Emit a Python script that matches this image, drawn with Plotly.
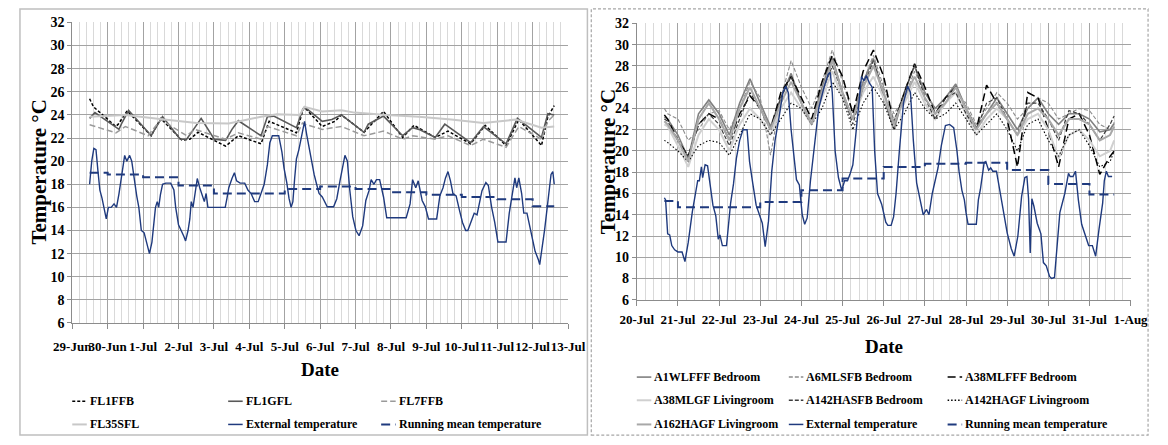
import plotly.graph_objects as go

W, H = 1168, 445
FONT = "Liberation Serif"

# ---------------- LEFT PANEL DATA (x = days after 29-Jun 00:00) ----------------
days_left = ["29-Jun", "30-Jun", "1-Jul", "2-Jul", "3-Jul", "4-Jul", "5-Jul", "6-Jul",
             "7-Jul", "8-Jul", "9-Jul", "10-Jul", "11-Jul", "12-Jul", "13-Jul"]

ext_L_t = [0.49, 0.55, 0.61, 0.67, 0.73, 0.78, 0.84, 0.9, 0.96, 1.02, 1.1, 1.18, 1.25, 1.32, 1.4,
           1.48, 1.54, 1.62, 1.68, 1.75, 1.82, 1.88, 1.95, 2.03, 2.1, 2.18, 2.25, 2.3, 2.35, 2.4,
           2.44, 2.49, 2.55, 2.64, 2.78, 2.87, 2.92, 3.0, 3.08, 3.15, 3.2, 3.27, 3.32, 3.36, 3.41,
           3.46, 3.53, 3.6, 3.67, 3.73, 3.78, 3.83, 4.0, 4.2, 4.32, 4.37, 4.42, 4.51, 4.58, 4.64,
           4.74, 4.87, 4.96, 5.05, 5.15, 5.25, 5.33, 5.42, 5.51, 5.58, 5.65, 5.83, 5.92, 5.98, 6.06,
           6.12, 6.18, 6.23, 6.28, 6.33, 6.4, 6.47, 6.56, 6.62, 6.69, 6.76, 6.83, 6.9, 6.97, 7.06,
           7.2, 7.38, 7.47, 7.56, 7.7, 7.77, 7.83, 7.92, 8.01, 8.1, 8.2, 8.29, 8.38, 8.44, 8.52,
           8.59, 8.68, 8.79, 8.88, 9.43, 9.54, 9.61, 9.7, 9.77, 9.88, 9.97, 10.06, 10.29, 10.38, 10.47,
           10.54, 10.61, 10.68, 10.75, 10.84, 10.93, 11.02, 11.11, 11.17, 11.29, 11.35, 11.43, 11.57, 11.68, 11.75,
           11.84, 11.93, 12.02, 12.25, 12.34, 12.43, 12.5, 12.55, 12.61, 12.69, 12.75, 12.84, 12.94, 13.07, 13.16,
           13.2, 13.34, 13.43, 13.52, 13.57, 13.61]
ext_L_v = [18.0, 20.0, 21.1, 21.0, 19.0, 17.5, 16.8, 16.0, 15.0, 16.0, 16.0, 16.3, 16.0, 17.2, 19.0,
           20.5, 20.0, 20.5, 20.0, 18.3, 17.0, 16.0, 14.0, 13.8, 13.0, 12.0, 13.0, 14.5, 16.0, 16.5,
           16.0, 17.1, 18.0, 18.1, 18.1, 17.5, 16.0, 14.5, 14.0, 13.5, 13.1, 14.0, 15.0, 16.5, 16.0,
           17.2, 18.5, 17.7, 17.0, 16.5, 17.2, 16.0, 16.0, 16.0, 16.0, 16.8, 17.7, 18.5, 19.0, 18.3,
           18.1, 18.1, 17.5, 17.2, 16.5, 16.5, 17.2, 18.0, 19.7, 21.6, 22.2, 22.2, 20.8, 19.4, 18.1,
           16.8, 16.0, 16.5, 18.5, 20.2, 21.0, 22.2, 23.45, 22.3, 21.1, 20.0, 18.85, 18.0, 17.2, 16.9,
           16.05, 16.05, 16.75, 18.3, 20.5, 20.0, 17.7, 15.2, 14.0, 13.55, 14.4, 16.6, 17.45, 18.4, 18.0,
           18.4, 18.4, 16.9, 15.1, 15.1, 16.3, 18.4, 17.7, 18.3, 16.6, 16.05, 15.0, 15.0, 17.0, 17.7,
           18.55, 19.1, 18.3, 17.2, 17.0, 15.8, 14.7, 14.0, 14.0, 15.0, 15.5, 15.35, 17.45, 18.15, 17.9,
           16.05, 14.7, 13.0, 13.0, 15.5, 17.45, 18.55, 17.7, 18.55, 17.2, 15.5, 15.5, 14.0, 12.2, 11.5,
           11.05, 14.1, 16.6, 18.85, 19.1, 18.0]

rm_L_t = [0.49, 1, 2, 3, 4, 5, 6, 7, 8, 9, 10, 11, 12, 13, 13.61]
rm_L_v = [19.0, 18.85, 18.6, 17.9, 17.2, 17.2, 17.6, 17.8, 17.6, 17.3, 17.1, 16.9, 16.7, 16.1, 16.1]

fl1gfl_t = [0.49, 0.64, 1.32, 1.40, 1.59, 2.23, 2.30, 2.55, 3.05, 3.23, 3.46, 3.64, 4.01, 4.33,
            4.51, 4.69, 5.33, 5.42, 5.51, 5.69, 6.33, 6.51, 6.56, 7.06, 7.33, 7.6, 8.24, 8.36,
            8.79, 9.33, 9.61, 9.79, 10.25, 10.52, 11.25, 11.61, 12.25, 12.57, 13.25, 13.43, 13.61]
fl1gfl_v = [23.7, 24.2, 22.75, 23.3, 24.4, 22.2, 22.6, 23.85, 21.9, 21.9, 22.9, 23.7, 21.9, 21.8,
            22.75, 23.5, 22.2, 23.0, 23.85, 23.9, 22.9, 24.5, 24.7, 23.45, 23.6, 24.0, 22.5, 23.2,
            23.9, 22.2, 22.9, 22.75, 22.05, 23.2, 21.6, 23.0, 21.5, 23.7, 22.05, 24.1, 24.0]

fl1ffb_t = [0.49, 0.6, 1.23, 1.3, 1.55, 2.23, 2.5, 3.1, 3.32, 3.55, 4.33, 4.69, 5.33, 5.56, 6.33,
            6.51, 6.56, 7.06, 7.42, 7.6, 8.24, 8.79, 9.33, 9.65, 10.25, 10.61, 11.25, 11.66, 12.25,
            12.61, 13.25, 13.43, 13.61]
fl1ffb_v = [25.4, 24.7, 23.0, 23.2, 24.35, 22.2, 23.7, 21.8, 21.9, 22.5, 21.3, 22.2, 21.5, 23.45, 22.45,
            24.4, 24.65, 23.0, 23.45, 24.0, 22.5, 24.3, 22.05, 23.1, 22.05, 22.6, 21.5, 23.1, 21.35,
            23.6, 21.35, 23.85, 24.8]

fl7ffb_t = [0.49, 1.23, 1.5, 2.14, 2.5, 3.23, 3.46, 4.33, 4.69, 5.33, 5.51, 6.33, 6.5, 6.56, 7.06,
            7.6, 8.24, 8.79, 9.33, 9.61, 10.25, 10.61, 11.25, 11.61, 12.25, 12.61, 13.25, 13.43, 13.61]
fl7ffb_v = [23.15, 22.45, 23.0, 22.2, 23.6, 22.2, 22.75, 21.9, 22.45, 21.9, 23.0, 22.2, 23.3, 23.2, 22.75,
            23.0, 22.2, 22.6, 21.9, 22.2, 21.9, 22.2, 21.35, 21.9, 21.2, 23.0, 21.9, 23.45, 24.0]

fl35sfl_t = [0.49, 1.5, 2.6, 3.51, 4.42, 5.33, 5.78, 6.42, 6.56, 7.06, 7.6, 7.97, 8.88, 9.79, 10.7,
             11.61, 12.52, 13.25, 13.61]
fl35sfl_v = [23.85, 24.0, 23.6, 23.3, 23.25, 23.85, 24.05, 24.0, 24.7, 24.3, 24.4, 24.2, 24.0, 23.85, 23.6,
             23.3, 23.6, 22.9, 23.0]

# ---------------- RIGHT PANEL DATA (x = days after 20-Jul 00:00) ----------------
days_right = ["20-Jul", "21-Jul", "22-Jul", "23-Jul", "24-Jul", "25-Jul", "26-Jul",
              "27-Jul", "28-Jul", "29-Jul", "30-Jul", "31-Jul", "1-Aug"]

ext_R_t = [0.67, 0.7, 0.75, 0.8, 0.85, 0.92, 1.0, 1.1, 1.17, 1.25, 1.35, 1.42, 1.48, 1.52, 1.57,
           1.6, 1.66, 1.72, 1.8, 1.85, 1.92, 1.98, 2.02, 2.08, 2.18, 2.22, 2.28, 2.35, 2.42, 2.5,
           2.58, 2.68, 2.74, 2.82, 2.9, 2.98, 3.05, 3.12, 3.2, 3.28, 3.36, 3.45, 3.55, 3.62, 3.68,
           3.75, 3.8, 3.88, 3.95, 4.02, 4.08, 4.14, 4.22, 4.3, 4.42, 4.55, 4.65, 4.7, 4.75, 4.82,
           4.9, 4.98, 5.05, 5.12, 5.18, 5.25, 5.32, 5.4, 5.46, 5.52, 5.58, 5.65, 5.72, 5.78, 5.85,
           5.95, 6.05, 6.1, 6.18, 6.24, 6.3, 6.38, 6.48, 6.58, 6.65, 6.72, 6.8, 6.88, 6.96, 7.04,
           7.1, 7.18, 7.26, 7.32, 7.4, 7.5, 7.6, 7.7, 7.78, 7.83, 7.9, 7.96, 8.0, 8.05, 8.25,
           8.3, 8.35, 8.44, 8.48, 8.55, 8.6, 8.65, 8.74, 8.83, 8.92, 9.0, 9.1, 9.17, 9.26, 9.35,
           9.43, 9.48, 9.52, 9.56, 9.6, 9.65, 9.73, 9.82, 9.88, 9.95, 10.03, 10.08, 10.15, 10.2, 10.28,
           10.4, 10.49, 10.53, 10.6, 10.66, 10.73, 10.81, 10.9, 10.98, 11.07, 11.15, 11.23, 11.32, 11.36, 11.41,
           11.46, 11.55]
ext_R_v = [15.6, 15.4, 12.2, 12.1, 11.1, 10.7, 10.5, 10.5, 9.6, 11.4, 14.3, 16.0, 17.2, 17.2, 18.5,
           17.5, 18.7, 18.6, 16.6, 14.9, 13.9, 11.7, 12.1, 11.1, 11.1, 12.6, 15.1, 16.9, 19.3, 21.0,
           22.0, 22.0, 19.0, 16.9, 14.9, 14.0, 13.2, 11.0, 13.4, 18.1, 21.0, 23.0, 25.5, 26.1, 25.5,
           22.0, 20.0, 17.3, 16.8, 14.0, 13.1, 13.7, 17.2, 20.0, 24.0, 26.0, 27.2, 27.4, 25.5, 20.0,
           17.5, 16.3, 17.2, 17.2, 17.8, 18.7, 21.5, 25.0, 27.0, 26.6, 27.1, 26.4, 26.0, 20.0, 16.0,
           15.0, 13.3, 13.0, 13.0, 13.8, 16.0, 20.0, 24.5, 26.1, 25.5, 21.0, 17.0, 15.5, 14.0, 14.5,
           14.0, 16.0, 17.5, 18.4, 20.5, 22.4, 22.5, 22.2, 20.0, 18.1, 16.3, 15.4, 14.2, 13.1, 13.1,
           15.4, 16.4, 18.9, 19.0, 18.2, 18.4, 18.1, 18.1, 16.0, 13.9, 12.3, 10.8, 10.1, 12.0, 15.7,
           17.5, 17.6, 15.5, 10.4, 15.5, 14.8, 13.2, 12.2, 9.5, 9.2, 8.2, 8.0, 8.1, 10.8, 14.2,
           16.0, 17.9, 17.6, 17.6, 18.1, 15.4, 13.1, 12.0, 11.1, 11.1, 10.1, 12.6, 15.1, 17.2, 18.1,
           17.6, 17.6]

rm_R_t = [0.67, 1, 2, 3, 4, 5, 6, 7, 8, 9, 10, 11, 11.6]
rm_R_v = [15.3, 14.7, 14.7, 15.2, 16.3, 17.4, 18.5, 18.8, 18.9, 18.2, 16.9, 15.9, 15.9]

in_R_t = [0.67, 0.75, 1.0, 1.25, 1.5, 1.75, 2.0, 2.25, 2.5, 2.75, 3.0, 3.25, 3.5, 3.75, 4.0, 4.25,
          4.5, 4.75, 5.0, 5.25, 5.5, 5.75, 6.0, 6.25, 6.5, 6.75, 7.0, 7.25, 7.5, 7.75, 8.0, 8.25,
          8.5, 8.75, 9.0, 9.25, 9.5, 9.75, 10.0, 10.25, 10.5, 10.75, 11.0, 11.25, 11.5, 11.6]
a1wlfff = [23.2, 23.0, 21.5, 19.3, 23.5, 24.8, 23.5, 21.5, 24.5, 26.8, 24.5, 22.3, 25.0, 27.3, 24.5, 22.6,
           26.0, 28.8, 25.5, 23.0, 26.5, 28.7, 25.0, 22.0, 25.5, 28.0, 25.5, 24.0, 25.0, 26.3, 24.0, 22.2,
           23.5, 25.0, 23.5, 22.0, 24.0, 25.0, 23.5, 22.5, 23.5, 23.5, 23.0, 21.8, 22.0, 22.6]
a6mlsfb = [24.0, 23.5, 23.0, 21.0, 22.0, 23.5, 23.8, 22.0, 24.0, 26.5, 25.0, 19.6, 25.0, 28.5, 26.0, 24.0,
           26.5, 29.5, 26.5, 23.5, 26.5, 29.0, 26.0, 23.5, 25.0, 27.5, 25.5, 24.0, 24.5, 25.5, 24.5, 22.5,
           24.0, 25.5, 24.5, 23.0, 24.0, 25.0, 24.5, 23.0, 23.5, 24.0, 23.8, 22.5, 22.0, 22.7]
a38mlfff = [23.4, 23.0, 21.0, 19.5, 22.5, 23.5, 23.0, 21.0, 23.5, 25.2, 24.0, 22.0, 25.5, 27.0, 25.0, 23.0,
            26.5, 29.0, 27.0, 23.5, 27.5, 29.5, 27.0, 22.5, 25.5, 28.2, 26.0, 23.5, 25.0, 26.0, 24.0, 22.0,
            26.2, 24.5, 23.0, 18.5, 25.5, 25.0, 22.0, 18.5, 23.0, 23.5, 21.5, 17.8, 19.5, 20.0]
a38mlgf = [22.5, 22.3, 20.5, 18.5, 21.5, 23.0, 22.0, 20.0, 22.5, 24.0, 23.0, 21.5, 24.0, 25.5, 24.0, 22.5,
           25.0, 27.5, 25.0, 23.0, 25.5, 27.0, 25.0, 23.0, 24.5, 26.5, 24.5, 23.0, 24.5, 25.5, 23.5, 21.5,
           23.0, 24.0, 23.0, 21.5, 23.0, 23.5, 22.0, 19.3, 21.5, 22.0, 21.0, 19.5, 20.0, 21.0]
a142hasfb = [23.0, 22.8, 21.0, 19.5, 22.5, 23.5, 22.5, 20.5, 23.0, 25.5, 24.0, 22.0, 25.0, 27.0, 24.5, 22.5,
             25.5, 28.0, 25.5, 22.5, 26.0, 28.5, 25.5, 22.8, 25.5, 28.1, 25.0, 23.0, 25.0, 25.5, 23.5, 22.0,
             24.5, 25.0, 23.0, 21.5, 24.5, 24.5, 23.0, 21.0, 23.8, 23.5, 22.5, 21.0, 22.5, 23.3]
a142hagf = [21.0, 20.8, 20.0, 19.0, 20.5, 21.0, 20.8, 19.6, 21.5, 23.5, 23.0, 21.5, 23.0, 24.5, 24.0, 22.5,
            24.0, 26.5, 25.0, 22.0, 24.5, 26.0, 24.5, 22.0, 23.5, 25.5, 24.0, 23.0, 23.5, 24.5, 23.0, 21.5,
            22.5, 23.5, 22.0, 20.0, 22.5, 23.0, 21.0, 19.5, 21.5, 22.0, 20.5, 18.5, 19.0, 20.0]
a162hagf = [22.8, 22.5, 21.0, 19.0, 23.0, 24.5, 23.0, 21.0, 24.0, 26.0, 24.0, 22.0, 24.5, 26.5, 24.5, 22.5,
            25.5, 28.5, 25.5, 23.0, 26.0, 28.0, 25.5, 22.5, 25.0, 27.0, 25.0, 23.5, 24.5, 26.0, 24.0, 22.0,
            23.5, 24.5, 23.0, 21.5, 23.5, 24.0, 23.0, 21.5, 23.0, 23.0, 22.5, 21.0, 21.5, 22.3]

# ---------------- STYLES ----------------
NAVY = "#1f3a7e"
ST = {
    "FL1FFB": dict(color="#000000", width=1.5, dash="3px,2px"),
    "FL1GFL": dict(color="#595959", width=1.6, dash="solid"),
    "FL7FFB": dict(color="#9a9a9a", width=1.5, dash="6px,3px"),
    "FL35SFL": dict(color="#c8c8c8", width=2, dash="solid"),
    "A1WLFFF Bedroom": dict(color="#808080", width=1.6, dash="solid"),
    "A6MLSFB Bedroom": dict(color="#8c8c8c", width=1.1, dash="4px,2px"),
    "A38MLFFF Bedroom": dict(color="#000000", width=1.5, dash="8px,4px"),
    "A38MLGF Livingroom": dict(color="#d0d0d0", width=2, dash="solid"),
    "A142HASFB Bedroom": dict(color="#3c3c3c", width=1.2, dash="4px,2px"),
    "A142HAGF Livingroom": dict(color="#000000", width=1.1, dash="1.5px,2px"),
    "A162HAGF Livingroom": dict(color="#a8a8a8", width=2, dash="solid"),
    "External temperature": dict(color=NAVY, width=1.4, dash="solid"),
    "Running mean temperature": dict(color=NAVY, width=2, dash="9px,5px"),
}

fig = go.Figure()


def add(name, x, y, xa, ya, shape="linear"):
    s = ST[name]
    fig.add_trace(go.Scatter(x=x, y=y, xaxis=xa, yaxis=ya, mode="lines", name=name,
                             line=dict(color=s["color"], width=s["width"], dash=s["dash"], shape=shape),
                             showlegend=False, hoverinfo="skip"))


add("FL1FFB", fl1ffb_t, fl1ffb_v, "x", "y")
add("FL1GFL", fl1gfl_t, fl1gfl_v, "x", "y")
add("FL7FFB", fl7ffb_t, fl7ffb_v, "x", "y")
add("FL35SFL", fl35sfl_t, fl35sfl_v, "x", "y")
add("External temperature", ext_L_t, ext_L_v, "x", "y")
add("Running mean temperature", rm_L_t, rm_L_v, "x", "y", shape="hv")

add("A1WLFFF Bedroom", in_R_t, a1wlfff, "x2", "y2")
add("A6MLSFB Bedroom", in_R_t, a6mlsfb, "x2", "y2")
add("A38MLFFF Bedroom", in_R_t, a38mlfff, "x2", "y2")
add("A38MLGF Livingroom", in_R_t, a38mlgf, "x2", "y2")
add("A142HASFB Bedroom", in_R_t, a142hasfb, "x2", "y2")
add("A142HAGF Livingroom", in_R_t, a142hagf, "x2", "y2")
add("A162HAGF Livingroom", in_R_t, a162hagf, "x2", "y2")
add("External temperature", ext_R_t, ext_R_v, "x2", "y2")
add("Running mean temperature", rm_R_t, rm_R_v, "x2", "y2", shape="hv")


def pxx(x):
    return x / W


def pyy(y):
    return 1 - y / H


MAJ = "#a3a3a3"
MIN = "#d9d9d9"
tickfont_x = dict(family=FONT, size=13, color="black", weight="bold")
tickfont_y = dict(family=FONT, size=14, color="black", weight="bold")


def xaxis(dom, n, labels, anchor, standoff):
    return dict(domain=dom, range=[0, n], tickmode="array", tickvals=list(range(n + 1)), ticktext=labels,
                tickangle=0, showgrid=True, gridcolor=MAJ, gridwidth=1, zeroline=False,
                showline=True, linecolor="#8c8c8c", ticks="outside", ticklen=5, tickcolor="#8c8c8c",
                tickfont=tickfont_x, ticklabelstandoff=standoff, anchor=anchor, fixedrange=True,
                minor=dict(tickmode="linear", tick0=0, dtick=0.2, showgrid=True, gridcolor=MIN, gridwidth=1))


def yaxis(dom, anchor):
    return dict(domain=dom, range=[6, 32], tickmode="linear", tick0=6, dtick=2, showgrid=True,
                gridcolor=MAJ, gridwidth=1, zeroline=False, showline=True, linecolor="#8c8c8c",
                ticks="outside", ticklen=4, tickcolor="#8c8c8c", tickfont=tickfont_y, anchor=anchor,
                fixedrange=True)


fig.update_layout(
    width=W, height=H, margin=dict(l=0, r=0, t=0, b=0),
    paper_bgcolor="white", plot_bgcolor="white", showlegend=False,
    xaxis=xaxis([pxx(55), pxx(567)], 14, days_left, "y", 6),
    yaxis=yaxis([pyy(327), pyy(16)], "x"),
    xaxis2=xaxis([pxx(638), pxx(1148)], 12, days_right, "y2", 3),
    yaxis2=yaxis([pyy(303), pyy(17)], "x2"),
)

shapes = [
    dict(type="rect", xref="paper", yref="paper", x0=pxx(1), x1=pxx(587), y0=pyy(443), y1=pyy(2),
         line=dict(color="#bfbfbf", width=1.5)),
    dict(type="rect", xref="paper", yref="paper", x0=pxx(591), x1=pxx(1166), y0=pyy(443), y1=pyy(2),
         line=dict(color="#a6a6a6", width=1.2, dash="3px,2px")),
]
ann = []
title_font = dict(family=FONT, size=19, color="black", weight="bold")
ytitle_font = dict(family=FONT, size=21, color="black", weight="bold")
ann.append(dict(text="Date", x=pxx(311), y=pyy(375), xref="paper", yref="paper", showarrow=False,
                font=title_font, xanchor="center", yanchor="middle"))
ann.append(dict(text="Date", x=pxx(893), y=pyy(351), xref="paper", yref="paper", showarrow=False,
                font=title_font, xanchor="center", yanchor="middle"))
ann.append(dict(text="Temperature °C", x=pxx(21), y=pyy(171), xref="paper", yref="paper", showarrow=False,
                font=ytitle_font, textangle=-90, xanchor="center", yanchor="middle"))
ann.append(dict(text="Temperature °C", x=pxx(608), y=pyy(160), xref="paper", yref="paper", showarrow=False,
                font=ytitle_font, textangle=-90, xanchor="center", yanchor="middle"))

leg_font = dict(family=FONT, size=12, color="black", weight="bold")
legend_left = [
    ["FL1FFB", "FL1GFL", "FL7FFB"],
    ["FL35SFL", "External temperature", "Running mean temperature"],
]
legend_right = [
    ["A1WLFFF Bedroom", "A6MLSFB Bedroom", "A38MLFFF Bedroom"],
    ["A38MLGF Livingroom", "A142HASFB Bedroom", "A142HAGF Livingroom"],
    ["A162HAGF Livingroom", "External temperature", "Running mean temperature"],
]


def legend(rows, cols, rowy):
    for r, row in enumerate(rows):
        for c, name in enumerate(row):
            x0 = cols[c]
            y = rowy[r]
            s = ST[name]
            shapes.append(dict(type="line", xref="paper", yref="paper", x0=pxx(x0), x1=pxx(x0 + 15),
                               y0=pyy(y), y1=pyy(y),
                               line=dict(color=s["color"], width=max(s["width"], 1.5), dash=s["dash"])))
            ann.append(dict(text=name, x=pxx(x0 + 16), y=pyy(y), xref="paper", yref="paper",
                            showarrow=False, font=leg_font, xanchor="left", yanchor="middle"))


legend(legend_left, [55, 216, 374], [408, 432])
legend(legend_right, [638, 795, 959], [383, 407, 432])

fig.update_layout(shapes=shapes, annotations=ann)
fig.write_html("out.html", config={"displayModeBar": False, "staticPlot": True},
               post_script="document.body.style.margin='0';document.body.style.overflow='hidden';")
